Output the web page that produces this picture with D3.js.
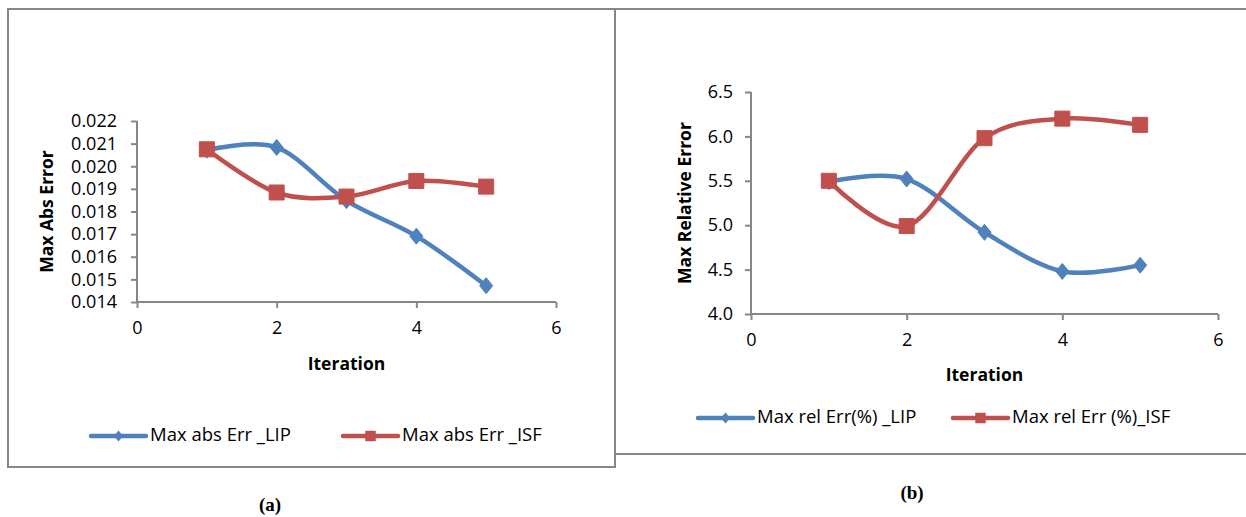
<!DOCTYPE html>
<html>
<head>
<meta charset="utf-8">
<script src="https://cdn.jsdelivr.net/npm/d3@7"></script>
<style>
  body { margin: 0; background: #fff; }
  svg { display: block; font-family: "Open Sans", "Liberation Sans", sans-serif; }
</style>
</head>
<body>
<svg id="chart" width="1246" height="517"></svg>
<script>
// iterations shared by both panels
const iterations = [1, 2, 3, 4, 5];

// panel (a) - max absolute error
const absLIP = [0.02071, 0.02083, 0.01848, 0.01691, 0.01472];
const absISF = [0.02075, 0.01884, 0.01866, 0.01935, 0.01910];
const absTicks = [0.014, 0.015, 0.016, 0.017, 0.018, 0.019, 0.020, 0.021, 0.022];

// panel (b) - max relative error (%)
const relLIP = [5.49, 5.52, 4.92, 4.48, 4.55];
const relISF = [5.50, 4.99, 5.98, 6.20, 6.13];
const relTicks = [4.0, 4.5, 5.0, 5.5, 6.0, 6.5];

const xTicks = [0, 2, 4, 6];

const BLUE = "#4f81bd";
const RED = "#c0504d";
const GREY = "#868686";

const svg = d3.select("#chart");

// frames round each panel
svg.append("rect").attr("x", 8).attr("y", 9).attr("width", 607).attr("height", 458)
  .attr("fill", "none").attr("stroke", GREY).attr("stroke-width", 2);
svg.append("rect").attr("x", 615).attr("y", 9).attr("width", 640).attr("height", 445)
  .attr("fill", "#fff").attr("stroke", GREY).attr("stroke-width", 2);

function drawPanel(cfg) {
  const g = svg.append("g");
  const x = d3.scaleLinear().domain([0, 6]).range([cfg.x0, cfg.x1]);
  const y = d3.scaleLinear().domain(cfg.yDomain).range([cfg.y0, cfg.y1]);

  // y axis
  const yAxis = g.append("g")
    .attr("transform", `translate(${cfg.x0},0)`)
    .call(d3.axisLeft(y).tickValues(cfg.yTicks).tickFormat(cfg.yFormat).tickSize(6).tickPadding(cfg.yPad));
  // x axis
  const xAxis = g.append("g")
    .attr("transform", `translate(0,${cfg.y0})`)
    .call(d3.axisBottom(x).tickValues(xTicks).tickFormat(d3.format("d")).tickSize(6).tickPadding(13));

  [yAxis, xAxis].forEach(a => {
    a.select(".domain").attr("stroke", GREY).attr("stroke-width", 2);
    a.selectAll(".tick line").attr("stroke", GREY).attr("stroke-width", 2);
    a.selectAll(".tick text").attr("fill", "#000").style("font-size", "18px")
      .style("font-family", "'Open Sans', sans-serif");
  });
  // plain axis lines without outer ticks
  yAxis.select(".domain").attr("d", `M0,${cfg.y0}V${cfg.y1}`);
  xAxis.select(".domain").attr("d", `M${cfg.x0},0H${cfg.x1}`);

  // axis titles
  g.append("text")
    .attr("transform", `translate(${cfg.yTitleX},${(cfg.y0 + cfg.y1) / 2}) rotate(-90)`)
    .attr("text-anchor", "middle").attr("dominant-baseline", "middle")
    .style("font-size", "17.5px").style("font-weight", "bold")
    .text(cfg.yTitle);
  g.append("text")
    .attr("x", x(3)).attr("y", cfg.xTitleY)
    .attr("text-anchor", "middle").attr("dominant-baseline", "middle")
    .style("font-size", "17.5px").style("font-weight", "bold")
    .text("Iteration");

  const line = d3.line()
    .x((d, i) => x(iterations[i]))
    .y(d => y(d))
    .curve(d3.curveCardinal.tension(0));

  const series = [
    { values: cfg.lip, color: BLUE, marker: "diamond", name: cfg.names[0] },
    { values: cfg.isf, color: RED, marker: "square", name: cfg.names[1] }
  ];

  series.forEach(s => {
    g.append("path").datum(s.values)
      .attr("d", line)
      .attr("fill", "none").attr("stroke", s.color).attr("stroke-width", 4.5)
      .attr("stroke-linecap", "round");
  });
  series.forEach(s => {
    g.selectAll(null).data(s.values).enter()
      .append("path")
      .attr("d", markerPath(s.marker, 1))
      .attr("transform", (d, i) => `translate(${x(iterations[i])},${y(d)})`)
      .attr("fill", s.color).attr("stroke", s.color).attr("stroke-width", 1);
  });

  // legend
  const leg = g.append("g");
  cfg.legendX.forEach((lx, i) => {
    const s = series[i];
    leg.append("line")
      .attr("x1", lx).attr("x2", lx + 55).attr("y1", cfg.legendY).attr("y2", cfg.legendY)
      .attr("stroke", s.color).attr("stroke-width", 4.5).attr("stroke-linecap", "round");
    leg.append("path")
      .attr("d", markerPath(s.marker, 0.7))
      .attr("transform", `translate(${lx + 27.5},${cfg.legendY})`)
      .attr("fill", s.color);
    leg.append("text")
      .attr("x", lx + 59).attr("y", cfg.legendY)
      .attr("dominant-baseline", "middle")
      .style("font-size", "18.5px")
      .text(s.name);
  });

  // panel caption
  svg.append("text")
    .attr("x", cfg.capX).attr("y", cfg.capY)
    .attr("text-anchor", "middle").attr("dominant-baseline", "middle")
    .style("font-family", "'Liberation Serif', serif").style("font-weight", "bold").style("font-size", "19px")
    .text(cfg.caption);
}

function markerPath(type, k) {
  if (type === "square") {
    const h = 7.5 * k;
    return `M${-h},${-h}H${h}V${h}H${-h}Z`;
  }
  const w = 6.5 * k, hh = 8 * k;
  return `M0,${-hh}L${w},0L0,${hh}L${-w},0Z`;
}

drawPanel({
  x0: 137, x1: 556, y0: 302, y1: 121,
  yDomain: [0.014, 0.022], yTicks: absTicks, yFormat: d3.format(".3f"), yPad: 14,
  lip: absLIP, isf: absISF,
  yTitle: "Max Abs Error", yTitleX: 48, xTitleY: 365,
  names: ["Max abs Err _LIP", "Max abs Err _ISF"],
  legendX: [91, 343], legendY: 436,
  caption: "(a)", capX: 270, capY: 507
});

drawPanel({
  x0: 751, x1: 1218, y0: 314, y1: 92,
  yDomain: [4.0, 6.5], yTicks: relTicks, yFormat: d3.format(".1f"), yPad: 12,
  lip: relLIP, isf: relISF,
  yTitle: "Max Relative Error", yTitleX: 686, xTitleY: 376,
  names: ["Max rel Err(%) _LIP", "Max rel Err (%)_ISF"],
  legendX: [698, 953], legendY: 418,
  caption: "(b)", capX: 912, capY: 495
});
</script>
</body>
</html>
